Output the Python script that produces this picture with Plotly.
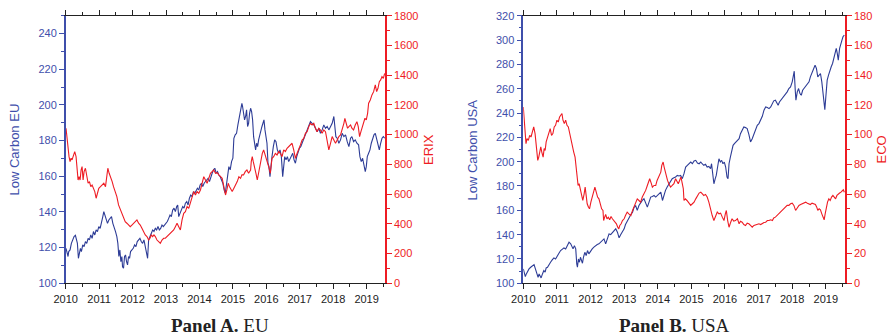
import plotly.graph_objects as go

# ---------------- Panel A: EU ----------------
eu_low_t = [2010.01, 2010.04, 2010.07, 2010.09, 2010.13, 2010.17, 2010.21, 2010.25, 2010.29, 2010.32,
            2010.35, 2010.38, 2010.41, 2010.44, 2010.47, 2010.51, 2010.55, 2010.59, 2010.63, 2010.67,
            2010.71, 2010.75, 2010.79, 2010.83, 2010.87, 2010.91, 2010.95, 2010.99, 2011.03, 2011.07,
            2011.11, 2011.14, 2011.17, 2011.21, 2011.25, 2011.29, 2011.33, 2011.37, 2011.41, 2011.45,
            2011.49, 2011.53, 2011.56, 2011.59, 2011.62, 2011.65, 2011.68, 2011.70, 2011.73, 2011.76,
            2011.79, 2011.82, 2011.85, 2011.88, 2011.91, 2011.94, 2011.98, 2012.02, 2012.06, 2012.10,
            2012.14, 2012.18, 2012.22, 2012.26, 2012.30, 2012.34, 2012.38, 2012.42, 2012.45, 2012.48,
            2012.52, 2012.56, 2012.60, 2012.64, 2012.68, 2012.72, 2012.76, 2012.80, 2012.84, 2012.88,
            2012.92, 2012.96, 2013.00, 2013.04, 2013.08, 2013.12, 2013.16, 2013.20, 2013.24, 2013.28,
            2013.32, 2013.35, 2013.38, 2013.42, 2013.46, 2013.50, 2013.54, 2013.58, 2013.62, 2013.66,
            2013.70, 2013.74, 2013.78, 2013.82, 2013.86, 2013.90, 2013.94, 2013.98, 2014.02, 2014.06,
            2014.10, 2014.14, 2014.18, 2014.22, 2014.26, 2014.30, 2014.34, 2014.38, 2014.42, 2014.46,
            2014.50, 2014.54, 2014.58, 2014.62, 2014.66, 2014.70, 2014.74, 2014.77, 2014.80, 2014.84,
            2014.88, 2014.92, 2014.96, 2015.00, 2015.03, 2015.07, 2015.11, 2015.15, 2015.19, 2015.23,
            2015.27, 2015.29, 2015.32, 2015.35, 2015.38, 2015.41, 2015.44, 2015.47, 2015.50, 2015.53,
            2015.56, 2015.59, 2015.62, 2015.65, 2015.68, 2015.71, 2015.74, 2015.77, 2015.81, 2015.84,
            2015.87, 2015.90, 2015.93, 2015.96, 2015.99, 2016.02, 2016.05, 2016.08, 2016.11, 2016.14,
            2016.17, 2016.21, 2016.25, 2016.29, 2016.33, 2016.37, 2016.41, 2016.45, 2016.49, 2016.52,
            2016.55, 2016.59, 2016.63, 2016.67, 2016.71, 2016.75, 2016.79, 2016.83, 2016.87, 2016.91,
            2016.95, 2016.99, 2017.03, 2017.07, 2017.12, 2017.17, 2017.22, 2017.27, 2017.32, 2017.37,
            2017.42, 2017.47, 2017.52, 2017.57, 2017.62, 2017.67, 2017.72, 2017.77, 2017.82, 2017.87,
            2017.92, 2017.97, 2018.02, 2018.05, 2018.08, 2018.12, 2018.17, 2018.22, 2018.27, 2018.32,
            2018.37, 2018.42, 2018.47, 2018.52, 2018.56, 2018.61, 2018.66, 2018.71, 2018.76, 2018.80,
            2018.84, 2018.88, 2018.92, 2018.96, 2018.99, 2019.02, 2019.06, 2019.10, 2019.14, 2019.18,
            2019.22, 2019.26, 2019.30, 2019.34, 2019.38, 2019.42, 2019.46, 2019.50, 2019.54]
eu_low_v = [119.6, 116.8, 115.0, 117.8, 118.7, 122.4, 124.3, 126.2, 126.9, 124.3,
            122.4, 114.0, 116.8, 119.6, 117.8, 121.5, 120.6, 123.4, 122.4, 125.2,
            124.3, 127.1, 125.2, 129.0, 127.1, 129.9, 129.0, 131.8, 130.8, 133.6,
            137.4, 140.2, 138.3, 136.4, 133.6, 135.5, 136.4, 137.4, 133.6, 131.8,
            129.0, 126.2, 122.4, 115.0, 118.7, 112.1, 115.0, 109.3, 108.4, 115.0,
            115.9, 112.1, 110.3, 115.0, 114.0, 117.8, 118.7, 119.6, 121.5, 120.6,
            123.4, 124.3, 125.2, 123.4, 122.4, 124.3, 119.6, 116.8, 114.0, 124.3,
            126.2, 129.0, 129.9, 129.0, 130.8, 129.9, 131.8, 129.9, 130.8, 132.7,
            131.8, 132.7, 133.6, 134.6, 136.4, 138.3, 137.4, 141.1, 142.1, 140.2,
            143.0, 143.9, 137.4, 139.3, 141.1, 143.0, 142.1, 144.9, 145.8, 143.9,
            147.7, 149.5, 148.6, 151.4, 150.5, 152.3, 153.3, 152.3, 155.1, 156.1,
            154.2, 156.1, 157.0, 157.9, 158.9, 157.0, 159.8, 161.7, 163.6, 164.5,
            161.7, 162.6, 160.7, 159.8, 157.9, 156.1, 152.3, 150.5, 154.2, 159.8,
            165.4, 163.6, 168.2, 170.1, 181.3, 183.2, 184.1, 188.8, 193.5, 197.2,
            200.9, 199.1, 195.3, 191.6, 193.5, 197.2, 187.9, 189.7, 195.3, 198.1,
            196.3, 191.6, 182.2, 178.5, 174.8, 178.5, 176.6, 180.4, 184.1, 186.0,
            187.9, 189.7, 191.6, 186.0, 182.2, 178.5, 167.3, 165.4, 159.8, 167.3,
            171.0, 176.6, 180.4, 179.4, 174.8, 172.9, 174.8, 171.0, 159.8, 165.4,
            171.0, 169.2, 171.0, 168.2, 170.1, 171.0, 172.9, 169.2, 167.3, 171.0,
            173.8, 175.7, 176.6, 178.5, 181.3, 184.1, 186.0, 188.8, 190.7, 189.7,
            188.8, 186.9, 185.0, 186.9, 184.1, 186.0, 188.8, 186.9, 187.9, 186.0,
            187.9, 189.7, 193.5, 187.9, 182.2, 181.3, 178.5, 180.4, 184.1, 182.2,
            183.2, 179.4, 176.6, 181.3, 182.2, 179.4, 180.4, 178.5, 177.6, 171.0,
            168.2, 170.1, 166.4, 162.6, 165.4, 171.0, 172.9, 174.8, 178.5, 181.3,
            183.2, 184.1, 181.3, 177.6, 174.8, 178.5, 181.3, 182.2, 181.3]

erix_t = [2010.01, 2010.04, 2010.07, 2010.10, 2010.13, 2010.16, 2010.19, 2010.23, 2010.27, 2010.31,
          2010.34, 2010.37, 2010.40, 2010.43, 2010.46, 2010.49, 2010.52, 2010.55, 2010.59, 2010.63,
          2010.67, 2010.71, 2010.75, 2010.79, 2010.83, 2010.87, 2010.91, 2010.95, 2010.99, 2011.04,
          2011.09, 2011.14, 2011.19, 2011.23, 2011.26, 2011.30, 2011.34, 2011.39, 2011.43, 2011.48,
          2011.53, 2011.58, 2011.64, 2011.69, 2011.73, 2011.78, 2011.83, 2011.88, 2011.93, 2011.98,
          2012.03, 2012.08, 2012.13, 2012.18, 2012.23, 2012.28, 2012.33, 2012.38, 2012.43, 2012.48,
          2012.52, 2012.56, 2012.60, 2012.64, 2012.68, 2012.73, 2012.78, 2012.83, 2012.88, 2012.93,
          2012.98, 2013.03, 2013.08, 2013.13, 2013.18, 2013.23, 2013.28, 2013.33, 2013.38, 2013.43,
          2013.48, 2013.53, 2013.58, 2013.63, 2013.68, 2013.73, 2013.78, 2013.83, 2013.88, 2013.93,
          2013.98, 2014.03, 2014.08, 2014.13, 2014.18, 2014.23, 2014.28, 2014.33, 2014.38, 2014.43,
          2014.48, 2014.53, 2014.58, 2014.63, 2014.68, 2014.73, 2014.78, 2014.82, 2014.86, 2014.90,
          2014.94, 2014.98, 2015.03, 2015.08, 2015.13, 2015.18, 2015.23, 2015.27, 2015.32, 2015.37,
          2015.42, 2015.47, 2015.53, 2015.55, 2015.58, 2015.61, 2015.65, 2015.69, 2015.73, 2015.78,
          2015.83, 2015.88, 2015.92, 2015.97, 2016.02, 2016.07, 2016.12, 2016.17, 2016.22, 2016.27,
          2016.32, 2016.37, 2016.42, 2016.47, 2016.52, 2016.57, 2016.62, 2016.67, 2016.72, 2016.77,
          2016.82, 2016.87, 2016.92, 2016.97, 2017.02, 2017.07, 2017.12, 2017.17, 2017.22, 2017.27,
          2017.32, 2017.37, 2017.42, 2017.47, 2017.52, 2017.57, 2017.62, 2017.67, 2017.72, 2017.77,
          2017.82, 2017.87, 2017.92, 2017.97, 2018.02, 2018.07, 2018.12, 2018.17, 2018.22, 2018.27,
          2018.32, 2018.35, 2018.39, 2018.43, 2018.47, 2018.52, 2018.56, 2018.61, 2018.66, 2018.71,
          2018.75, 2018.79, 2018.83, 2018.87, 2018.91, 2018.95, 2018.99, 2019.03, 2019.06, 2019.11,
          2019.16, 2019.21, 2019.26, 2019.30, 2019.34, 2019.38, 2019.42, 2019.46, 2019.50, 2019.54]
erix_v = [1043, 964, 897, 852, 818, 841, 830, 863, 886, 852,
          785, 695, 717, 695, 762, 785, 695, 751, 774, 717,
          673, 684, 650, 661, 639, 617, 572, 617, 639, 650,
          661, 673, 650, 717, 774, 740, 717, 684, 650, 617,
          583, 527, 493, 460, 437, 415, 404, 392, 381, 392,
          404, 415, 426, 404, 392, 370, 348, 325, 314, 291,
          303, 325, 314, 325, 314, 291, 280, 269, 291, 303,
          303, 314, 325, 336, 348, 359, 381, 404, 381, 359,
          426, 471, 482, 516, 504, 538, 572, 617, 594, 617,
          605, 628, 673, 717, 695, 673, 706, 740, 751, 762,
          740, 744, 729, 717, 706, 650, 594, 628, 673, 650,
          628, 617, 639, 661, 684, 717, 706, 729, 729, 751,
          762, 740, 762, 818, 852, 818, 785, 740, 695, 762,
          830, 874, 897, 863, 830, 785, 740, 841, 852, 874,
          863, 886, 874, 852, 897, 886, 908, 919, 930, 942,
          897, 841, 874, 897, 930, 964, 975, 1009, 1020, 1054,
          1076, 1065, 1076, 1043, 1020, 1043, 1031, 1009, 1031, 1020,
          964, 897, 942, 987, 964, 942, 964, 987, 998, 1031,
          1076, 1110, 1065, 1043, 1054, 1065, 1043, 1031, 1065, 1087,
          1054, 987, 1020, 1054, 1087, 1110, 1099, 1143, 1211, 1233,
          1267, 1289, 1334, 1289, 1312, 1356, 1368, 1390, 1379, 1412]

# ---------------- Panel B: USA ----------------
us_low_t = [2010.00, 2010.03, 2010.06, 2010.09, 2010.13, 2010.17, 2010.22, 2010.27, 2010.32, 2010.36,
            2010.40, 2010.44, 2010.47, 2010.50, 2010.53, 2010.57, 2010.61, 2010.65, 2010.68, 2010.72,
            2010.76, 2010.81, 2010.86, 2010.91, 2010.96, 2011.01, 2011.06, 2011.11, 2011.16, 2011.21,
            2011.26, 2011.31, 2011.36, 2011.41, 2011.45, 2011.48, 2011.52, 2011.56, 2011.59, 2011.61,
            2011.64, 2011.67, 2011.70, 2011.73, 2011.76, 2011.79, 2011.83, 2011.87, 2011.91, 2011.95,
            2012.00, 2012.05, 2012.10, 2012.15, 2012.20, 2012.25, 2012.30, 2012.35, 2012.40, 2012.45,
            2012.50, 2012.55, 2012.60, 2012.65, 2012.70, 2012.75, 2012.80, 2012.85, 2012.90, 2012.95,
            2013.00, 2013.04, 2013.09, 2013.14, 2013.20, 2013.25, 2013.29, 2013.34, 2013.39, 2013.44,
            2013.49, 2013.54, 2013.59, 2013.64, 2013.69, 2013.74, 2013.79, 2013.84, 2013.89, 2013.94,
            2013.99, 2014.04, 2014.09, 2014.14, 2014.19, 2014.23, 2014.28, 2014.33, 2014.38, 2014.43,
            2014.48, 2014.53, 2014.58, 2014.63, 2014.68, 2014.73, 2014.78, 2014.83, 2014.88, 2014.93,
            2014.98, 2015.03, 2015.08, 2015.13, 2015.18, 2015.23, 2015.28, 2015.32, 2015.37, 2015.42,
            2015.47, 2015.52, 2015.57, 2015.60, 2015.63, 2015.67, 2015.71, 2015.74, 2015.78, 2015.82,
            2015.86, 2015.90, 2015.94, 2015.98, 2016.02, 2016.06, 2016.09, 2016.12, 2016.16, 2016.20,
            2016.24, 2016.28, 2016.32, 2016.37, 2016.42, 2016.46, 2016.51, 2016.56, 2016.61, 2016.66,
            2016.71, 2016.76, 2016.81, 2016.86, 2016.91, 2016.96, 2017.01, 2017.06, 2017.11, 2017.16,
            2017.21, 2017.26, 2017.31, 2017.36, 2017.41, 2017.45, 2017.50, 2017.55, 2017.58, 2017.62,
            2017.66, 2017.70, 2017.75, 2017.80, 2017.85, 2017.90, 2017.95, 2018.00, 2018.03, 2018.06,
            2018.09, 2018.11, 2018.15, 2018.19, 2018.23, 2018.27, 2018.31, 2018.35, 2018.40, 2018.45,
            2018.50, 2018.54, 2018.59, 2018.64, 2018.68, 2018.72, 2018.76, 2018.80, 2018.84, 2018.88,
            2018.91, 2018.94, 2018.97, 2019.00, 2019.04, 2019.08, 2019.12, 2019.16, 2019.20, 2019.24,
            2019.28, 2019.31, 2019.34, 2019.37, 2019.41, 2019.44, 2019.48, 2019.51, 2019.55]
us_low_v = [111.8, 107.7, 105.5, 107.7, 109.9, 111.8, 113.2, 114.6, 115.4, 111.8,
            108.2, 104.9, 107.7, 106.3, 104.4, 107.7, 110.4, 109.1, 112.6, 113.2,
            115.4, 117.3, 119.2, 120.9, 120.0, 122.8, 124.7, 126.9, 128.3, 129.1,
            128.3, 131.0, 133.8, 132.4, 129.1, 128.3, 131.0, 128.3, 115.9, 113.2,
            120.0, 117.3, 121.4, 118.7, 116.5, 121.4, 125.5, 122.8, 126.9, 124.2,
            126.9, 128.3, 129.7, 131.0, 131.9, 132.4, 133.8, 135.2, 136.5, 132.4,
            136.5, 140.6, 140.1, 142.0, 143.4, 144.8, 142.0, 137.4, 140.1, 142.8,
            144.8, 148.3, 151.1, 153.0, 156.6, 158.5, 162.1, 164.0, 159.9, 164.0,
            166.7, 168.1, 169.5, 166.7, 162.6, 166.7, 170.9, 171.4, 172.2, 170.9,
            172.2, 174.2, 175.0, 168.1, 173.6, 176.4, 179.1, 181.8, 184.0, 186.0,
            186.8, 187.3, 188.7, 188.2, 188.7, 186.0, 190.1, 195.6, 197.0, 198.3,
            199.7, 198.3, 200.5, 201.1, 198.9, 198.3, 199.7, 198.3, 197.0, 197.8,
            195.6, 196.1, 194.2, 198.3, 192.8, 181.8, 186.0, 188.7, 195.6, 202.4,
            199.7, 201.1, 198.3, 199.7, 195.6, 187.3, 186.0, 198.3, 203.8, 209.3,
            213.4, 214.8, 216.2, 217.6, 218.9, 223.0, 225.8, 228.5, 228.0, 227.2,
            222.5, 216.2, 218.9, 223.0, 225.8, 229.9, 231.3, 234.0, 237.3, 242.3,
            245.0, 244.5, 243.6, 245.0, 247.8, 250.0, 250.5, 248.3, 246.4, 249.1,
            250.5, 251.9, 253.3, 256.0, 257.4, 260.1, 261.5, 265.6, 269.7, 274.4,
            258.7, 250.5, 257.4, 260.1, 256.0, 254.6, 258.7, 260.1, 261.5, 264.2,
            265.6, 269.7, 273.9, 276.6, 279.4, 276.6, 269.7, 271.1, 272.5, 265.6,
            258.7, 250.5, 242.8, 253.3, 267.0, 271.1, 275.2, 278.0, 280.7, 286.2,
            290.3, 293.1, 289.0, 283.5, 293.1, 297.2, 299.9, 302.7, 304.1]

eco_t = [2010.00, 2010.02, 2010.05, 2010.08, 2010.11, 2010.15, 2010.19, 2010.23, 2010.27, 2010.31,
         2010.35, 2010.39, 2010.43, 2010.46, 2010.49, 2010.52, 2010.55, 2010.59, 2010.62, 2010.65,
         2010.68, 2010.72, 2010.76, 2010.80, 2010.84, 2010.88, 2010.92, 2010.96, 2011.00, 2011.04,
         2011.08, 2011.12, 2011.15, 2011.18, 2011.22, 2011.26, 2011.30, 2011.34, 2011.38, 2011.42,
         2011.46, 2011.50, 2011.54, 2011.57, 2011.60, 2011.63, 2011.66, 2011.70, 2011.74, 2011.77,
         2011.81, 2011.84, 2011.87, 2011.90, 2011.94, 2011.97, 2012.01, 2012.05, 2012.09, 2012.13,
         2012.17, 2012.21, 2012.25, 2012.29, 2012.33, 2012.37, 2012.39, 2012.42, 2012.45, 2012.49,
         2012.53, 2012.57, 2012.61, 2012.65, 2012.69, 2012.73, 2012.77, 2012.81, 2012.84, 2012.87,
         2012.91, 2012.95, 2013.00, 2013.04, 2013.09, 2013.14, 2013.20, 2013.25, 2013.29, 2013.34,
         2013.39, 2013.44, 2013.49, 2013.54, 2013.59, 2013.64, 2013.69, 2013.73, 2013.76, 2013.81,
         2013.84, 2013.89, 2013.94, 2013.98, 2014.02, 2014.06, 2014.09, 2014.12, 2014.16, 2014.19,
         2014.21, 2014.25, 2014.29, 2014.33, 2014.38, 2014.43, 2014.48, 2014.53, 2014.57, 2014.61,
         2014.65, 2014.69, 2014.73, 2014.76, 2014.78, 2014.82, 2014.87, 2014.93, 2014.98, 2015.03,
         2015.08, 2015.13, 2015.18, 2015.23, 2015.28, 2015.32, 2015.37, 2015.42, 2015.47, 2015.52,
         2015.57, 2015.62, 2015.67, 2015.72, 2015.77, 2015.82, 2015.87, 2015.92, 2015.97, 2016.01,
         2016.04, 2016.08, 2016.12, 2016.17, 2016.21, 2016.26, 2016.31, 2016.37, 2016.42, 2016.46,
         2016.51, 2016.56, 2016.61, 2016.66, 2016.71, 2016.76, 2016.81, 2016.86, 2016.91, 2016.96,
         2017.01, 2017.06, 2017.11, 2017.16, 2017.21, 2017.26, 2017.31, 2017.36, 2017.41, 2017.45,
         2017.50, 2017.55, 2017.60, 2017.65, 2017.70, 2017.75, 2017.80, 2017.85, 2017.90, 2017.95,
         2018.00, 2018.05, 2018.10, 2018.15, 2018.20, 2018.25, 2018.29, 2018.34, 2018.40, 2018.45,
         2018.50, 2018.54, 2018.59, 2018.64, 2018.69, 2018.73, 2018.76, 2018.80, 2018.84, 2018.88,
         2018.92, 2018.95, 2018.98, 2019.01, 2019.05, 2019.09, 2019.13, 2019.17, 2019.21, 2019.25,
         2019.29, 2019.33, 2019.37, 2019.41, 2019.45, 2019.49, 2019.52, 2019.55]
eco_v = [118.6, 111.9, 100.7, 93.9, 97.3, 96.2, 99.5, 98.4, 101.8, 105.2,
         100.7, 89.4, 82.7, 84.9, 88.3, 91.7, 88.3, 84.9, 90.6, 89.4,
         95.1, 98.4, 100.7, 104.0, 99.5, 100.7, 105.2, 106.3, 109.7, 108.5,
         111.9, 113.7, 114.2, 109.7, 107.4, 109.7, 106.3, 105.2, 100.7, 95.1,
         91.7, 88.3, 84.9, 78.2, 71.5, 65.8, 67.0, 62.5, 59.1, 55.7,
         60.2, 64.7, 59.1, 53.5, 51.2, 50.1, 54.6, 58.0, 61.3, 64.7,
         61.3, 58.0, 56.8, 53.5, 50.1, 49.0, 42.2, 44.5, 46.3, 43.4,
         44.5, 42.7, 44.9, 43.4, 42.2, 41.1, 40.0, 37.7, 36.6, 38.9,
         40.0, 42.2, 43.4, 45.6, 47.9, 46.7, 45.6, 49.0, 51.2, 53.5,
         56.8, 55.7, 54.6, 58.0, 60.2, 62.5, 65.8, 69.2, 70.3, 67.0,
         64.7, 65.8, 65.8, 69.2, 71.5, 73.7, 74.8, 79.3, 81.6, 78.2,
         75.9, 72.6, 69.2, 67.0, 64.7, 65.8, 67.0, 70.3, 68.1, 67.0,
         69.2, 71.5, 67.0, 63.6, 55.7, 56.8, 55.7, 53.5, 52.4, 53.5,
         54.6, 56.8, 59.1, 60.7, 61.3, 60.2, 59.1, 59.8, 58.0, 54.6,
         49.0, 45.6, 42.2, 45.6, 47.9, 46.7, 47.2, 44.5, 42.2, 46.7,
         49.0, 42.2, 37.7, 41.1, 43.4, 41.8, 42.2, 43.4, 40.0, 41.8,
         41.1, 39.5, 38.9, 40.4, 40.0, 38.9, 37.7, 38.9, 39.3, 40.0,
         40.0, 39.5, 40.4, 40.9, 41.1, 42.2, 42.2, 42.7, 42.2, 44.0,
         44.5, 45.6, 46.7, 47.9, 49.0, 50.1, 51.2, 52.4, 52.4, 53.5,
         53.9, 52.4, 49.0, 51.2, 52.4, 53.0, 53.5, 53.9, 54.6, 53.9,
         53.5, 53.0, 53.9, 53.5, 53.0, 51.2, 49.0, 50.1, 49.4, 46.7,
         44.5, 42.7, 46.7, 51.2, 54.6, 56.8, 55.7, 58.0, 59.1, 58.0,
         56.8, 59.1, 60.2, 60.7, 61.3, 62.5, 62.9, 61.3]

years = list(range(2010, 2020))
year_labels = [str(y) for y in years]

BLUE = "#2d3c96"
BLUE_AX = "#3f4fab"
RED = "#ee1c24"
FONT = "Liberation Sans, Arial, sans-serif"
W, H = 887, 335

fig = go.Figure()
fig.add_trace(go.Scatter(x=eu_low_t, y=eu_low_v, mode="lines", line=dict(color=BLUE, width=1.1),
                         xaxis="x", yaxis="y"))
fig.add_trace(go.Scatter(x=erix_t, y=erix_v, mode="lines", line=dict(color=RED, width=1.1),
                         xaxis="x", yaxis="y2"))
fig.add_trace(go.Scatter(x=us_low_t, y=us_low_v, mode="lines", line=dict(color=BLUE, width=1.1),
                         xaxis="x2", yaxis="y3"))
fig.add_trace(go.Scatter(x=eco_t, y=eco_v, mode="lines", line=dict(color=RED, width=1.1),
                         xaxis="x2", yaxis="y4"))

ydom = [1 - 283.3 / H, 1 - 15.7 / H]


def xaxis(domain, rng):
    return dict(domain=domain, range=rng, tickvals=years, ticktext=year_labels,
                showline=True, linecolor="#222", linewidth=1, mirror="ticks",
                ticks="outside", ticklen=5, tickcolor="#222", tickwidth=1,
                minor=dict(dtick=0.5, tick0=2010, ticks="outside", ticklen=3, tickcolor="#222"),
                showgrid=False, zeroline=False, automargin=False,
                tickfont=dict(family=FONT, size=11, color="#222"))


def yaxis(rng, dtick, minor, color, side, anchor, overlaying=None):
    d = dict(domain=ydom, range=rng, dtick=dtick, tick0=0, side=side, anchor=anchor,
             showline=True, linecolor=color, linewidth=1.5, ticks="outside", ticklen=5,
             tickcolor=color, tickwidth=1,
             minor=dict(dtick=minor, ticks="outside", ticklen=3, tickcolor=color),
             showgrid=False, zeroline=False, automargin=False,
             tickfont=dict(family=FONT, size=11, color=color))
    if overlaying:
        d["overlaying"] = overlaying
    return d


fig.update_layout(
    width=W, height=H, margin=dict(l=0, r=0, t=0, b=0, pad=0, autoexpand=False),
    paper_bgcolor="white", plot_bgcolor="white", showlegend=False,
    xaxis=xaxis([65.7 / W, 385 / W], [2010, 2019.55]),
    xaxis2=xaxis([523.3 / W, 845 / W], [2010, 2019.57]),
    yaxis=yaxis([100, 250], 20, 10, BLUE_AX, "left", "x"),
    yaxis2=yaxis([0, 1800], 200, 100, RED, "right", "x", "y"),
    yaxis3=yaxis([100, 320], 20, 10, BLUE_AX, "left", "x2"),
    yaxis4=yaxis([0, 180], 20, 10, RED, "right", "x2", "y3"),
)

titles = [
    ("Low Carbon EU", 13.5, BLUE_AX),
    ("ERIX", 428, RED),
    ("Low Carbon USA", 471.5, BLUE_AX),
    ("ECO", 880.5, RED),
]
for text, xpx, col in titles:
    fig.add_annotation(text=text, x=xpx / W, y=1 - 150 / H, xref="paper", yref="paper",
                       textangle=-90, showarrow=False, xanchor="center", yanchor="middle",
                       font=dict(family=FONT, size=13, color=col))

panels = [("<b>Panel A.</b> EU", 220), ("<b>Panel B.</b> USA", 674)]
for text, xpx in panels:
    fig.add_annotation(text=text, x=xpx / W, y=1 - 325 / H, xref="paper", yref="paper",
                       showarrow=False, xanchor="center", yanchor="middle",
                       font=dict(family="Liberation Serif, DejaVu Serif, serif", size=19, color="#222"))

fig.write_html("out.html")
